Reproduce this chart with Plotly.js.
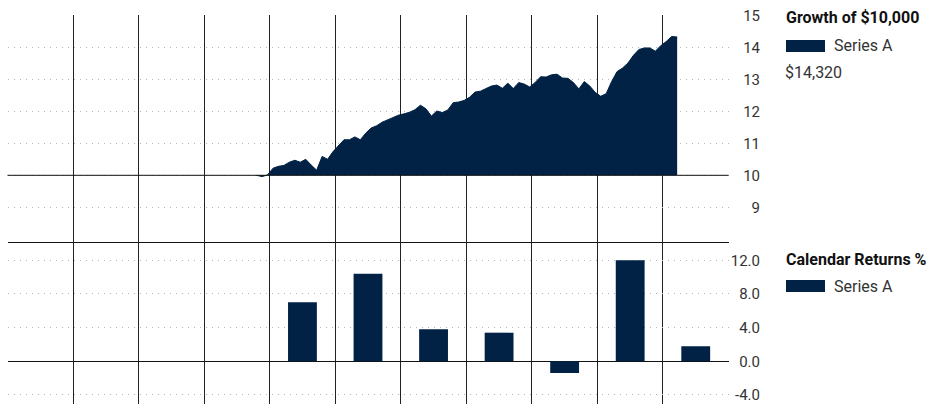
<!DOCTYPE html>
<html>
<head>
<meta charset="utf-8">
<script src="https://cdn.plot.ly/plotly-3.0.1.min.js"></script>
<style>html,body{margin:0;padding:0;background:#fff;}#chart{width:947px;height:404px;}</style>
</head>
<body>
<div id="chart"></div>
<script>
// ---------- DATA ----------
const columnYears = [2014, 2015, 2016, 2017, 2018, 2019, 2020, 2021, 2022, 2023, 2024];
const growthStart = 2017.8;           // decimal year of first monthly point
const baseValue = 10;                  // $10,000 (in thousands)
const growthValues = [
  10.00, 9.96, 10.01, 10.22, 10.28, 10.31, 10.41, 10.47, 10.41, 10.50,
  10.32, 10.16, 10.59, 10.50, 10.74, 10.94, 11.11, 11.11, 11.20, 11.11,
  11.32, 11.48, 11.55, 11.66, 11.74, 11.80, 11.88, 11.92, 11.97, 12.05,
  12.19, 12.08, 11.85, 12.01, 11.96, 12.04, 12.27, 12.29, 12.34, 12.44,
  12.60, 12.63, 12.71, 12.79, 12.82, 12.72, 12.88, 12.71, 12.90, 12.85,
  12.76, 12.90, 13.08, 13.07, 13.14, 13.16, 13.04, 13.03, 12.90, 12.70,
  12.93, 12.79, 12.59, 12.47, 12.55, 12.93, 13.24, 13.35, 13.51, 13.75,
  13.93, 13.98, 13.98, 13.88, 14.05, 14.18, 14.34, 14.32
];
const returnYears = [2018, 2019, 2020, 2021, 2022, 2023, 2024];
const returnValues = [7.0, 10.4, 3.8, 3.4, -1.4, 12.0, 1.8];
const growthTicks = [9, 10, 11, 12, 13, 14, 15];
const returnTicks = [-4, 0, 4, 8, 12];
const seriesName = 'Series A';
const growthTitle = 'Growth of $10,000';
const returnsTitle = 'Calendar Returns %';

// ---------- BUILD ----------
const W = 947, H = 404;
const navy = '#012245';
const fontFam = 'Roboto, "Liberation Sans", sans-serif';
const px = v => v / W;
const py = v => 1 - v / H;

const growthX = growthValues.map((_, i) => growthStart + i / 12);
const endValue = '$' + Math.round(growthValues[growthValues.length - 1] * 1000).toLocaleString('en-US');

const traces = [
  { x: growthX, y: growthX.map(() => baseValue), type: 'scatter', mode: 'lines',
    line: { width: 0, color: navy }, showlegend: false, hoverinfo: 'skip', xaxis: 'x', yaxis: 'y' },
  { x: growthX, y: growthValues, type: 'scatter', mode: 'lines', fill: 'tonexty',
    fillcolor: navy, line: { color: navy, width: 1 }, name: seriesName, showlegend: false,
    xaxis: 'x', yaxis: 'y' },
  { x: returnYears.map(y => y + 0.5), y: returnValues, type: 'bar', width: 0.44,
    marker: { color: navy, line: { width: 0 } }, name: seriesName, showlegend: false,
    xaxis: 'x2', yaxis: 'y2' }
];

const xDomain = [px(7.5), px(728.5)];
const xCommon = {
  domain: xDomain, range: [columnYears[0], columnYears[columnYears.length - 1] + 1],
  tickvals: columnYears.slice(1), showticklabels: false, ticks: '',
  showgrid: true, gridcolor: '#222', gridwidth: 1, zeroline: false, fixedrange: true
};
const gridDot = '#b5b5b5';
const tickFont = { family: fontFam, size: 15, color: '#333' };

const layout = {
  width: W, height: H, margin: { l: 0, r: 0, t: 0, b: 0 },
  paper_bgcolor: '#fff', plot_bgcolor: 'rgba(0,0,0,0)',
  font: { family: fontFam, color: '#333' },
  showlegend: false,
  xaxis: Object.assign({}, xCommon, { anchor: 'y', showline: true, linecolor: '#111', linewidth: 1 }),
  xaxis2: Object.assign({}, xCommon, { anchor: 'y2', matches: 'x', showline: false }),
  yaxis: {
    domain: [py(242), py(15.3)], range: [15 - (242 - 15.3) / 32, 15],
    tickvals: growthTicks, ticktext: growthTicks.map(String),
    showgrid: true, gridcolor: gridDot, griddash: '1px,5px', gridwidth: 1,
    zeroline: false, showline: false, ticks: '', ticklabeloverflow: 'allow',
    side: 'left', anchor: 'free', position: px(760), tickfont: tickFont
  },
  yaxis2: {
    domain: [0, py(242)], range: [-5.07, 14.17],
    tickvals: returnTicks, ticktext: returnTicks.map(v => v.toFixed(1)),
    showgrid: true, gridcolor: gridDot, griddash: '1px,5px', gridwidth: 1,
    zeroline: true, zerolinecolor: '#111', zerolinewidth: 1, showline: false, ticks: '',
    ticklabeloverflow: 'allow',
    side: 'left', anchor: 'free', position: px(760), tickfont: tickFont
  },
  shapes: [
    { type: 'line', xref: 'x domain', yref: 'y', x0: 0, x1: 1, y0: baseValue, y1: baseValue,
      line: { color: '#111', width: 1 }, layer: 'above' },
    { type: 'rect', xref: 'paper', yref: 'paper', x0: px(786), x1: px(825), y0: py(52), y1: py(40),
      fillcolor: navy, line: { width: 0 } },
    { type: 'rect', xref: 'paper', yref: 'paper', x0: px(786), x1: px(825), y0: py(292), y1: py(280),
      fillcolor: navy, line: { width: 0 } }
  ],
  annotations: [
    { text: '<b>' + growthTitle + '</b>', xref: 'paper', yref: 'paper', x: px(784), y: py(17),
      xanchor: 'left', yanchor: 'middle', showarrow: false, font: { family: fontFam, size: 16, color: '#111' } },
    { text: seriesName, xref: 'paper', yref: 'paper', x: px(832), y: py(46),
      xanchor: 'left', yanchor: 'middle', showarrow: false, font: { family: fontFam, size: 16, color: '#333' } },
    { text: endValue, xref: 'paper', yref: 'paper', x: px(783), y: py(73),
      xanchor: 'left', yanchor: 'middle', showarrow: false, font: { family: fontFam, size: 16, color: '#333' } },
    { text: '<b>' + returnsTitle + '</b>', xref: 'paper', yref: 'paper', x: px(784), y: py(259),
      xanchor: 'left', yanchor: 'middle', showarrow: false, font: { family: fontFam, size: 16, color: '#111' } },
    { text: seriesName, xref: 'paper', yref: 'paper', x: px(832), y: py(286),
      xanchor: 'left', yanchor: 'middle', showarrow: false, font: { family: fontFam, size: 16, color: '#333' } }
  ]
};

Plotly.newPlot('chart', traces, layout, { staticPlot: true, displayModeBar: false });
</script>
</body>
</html>
